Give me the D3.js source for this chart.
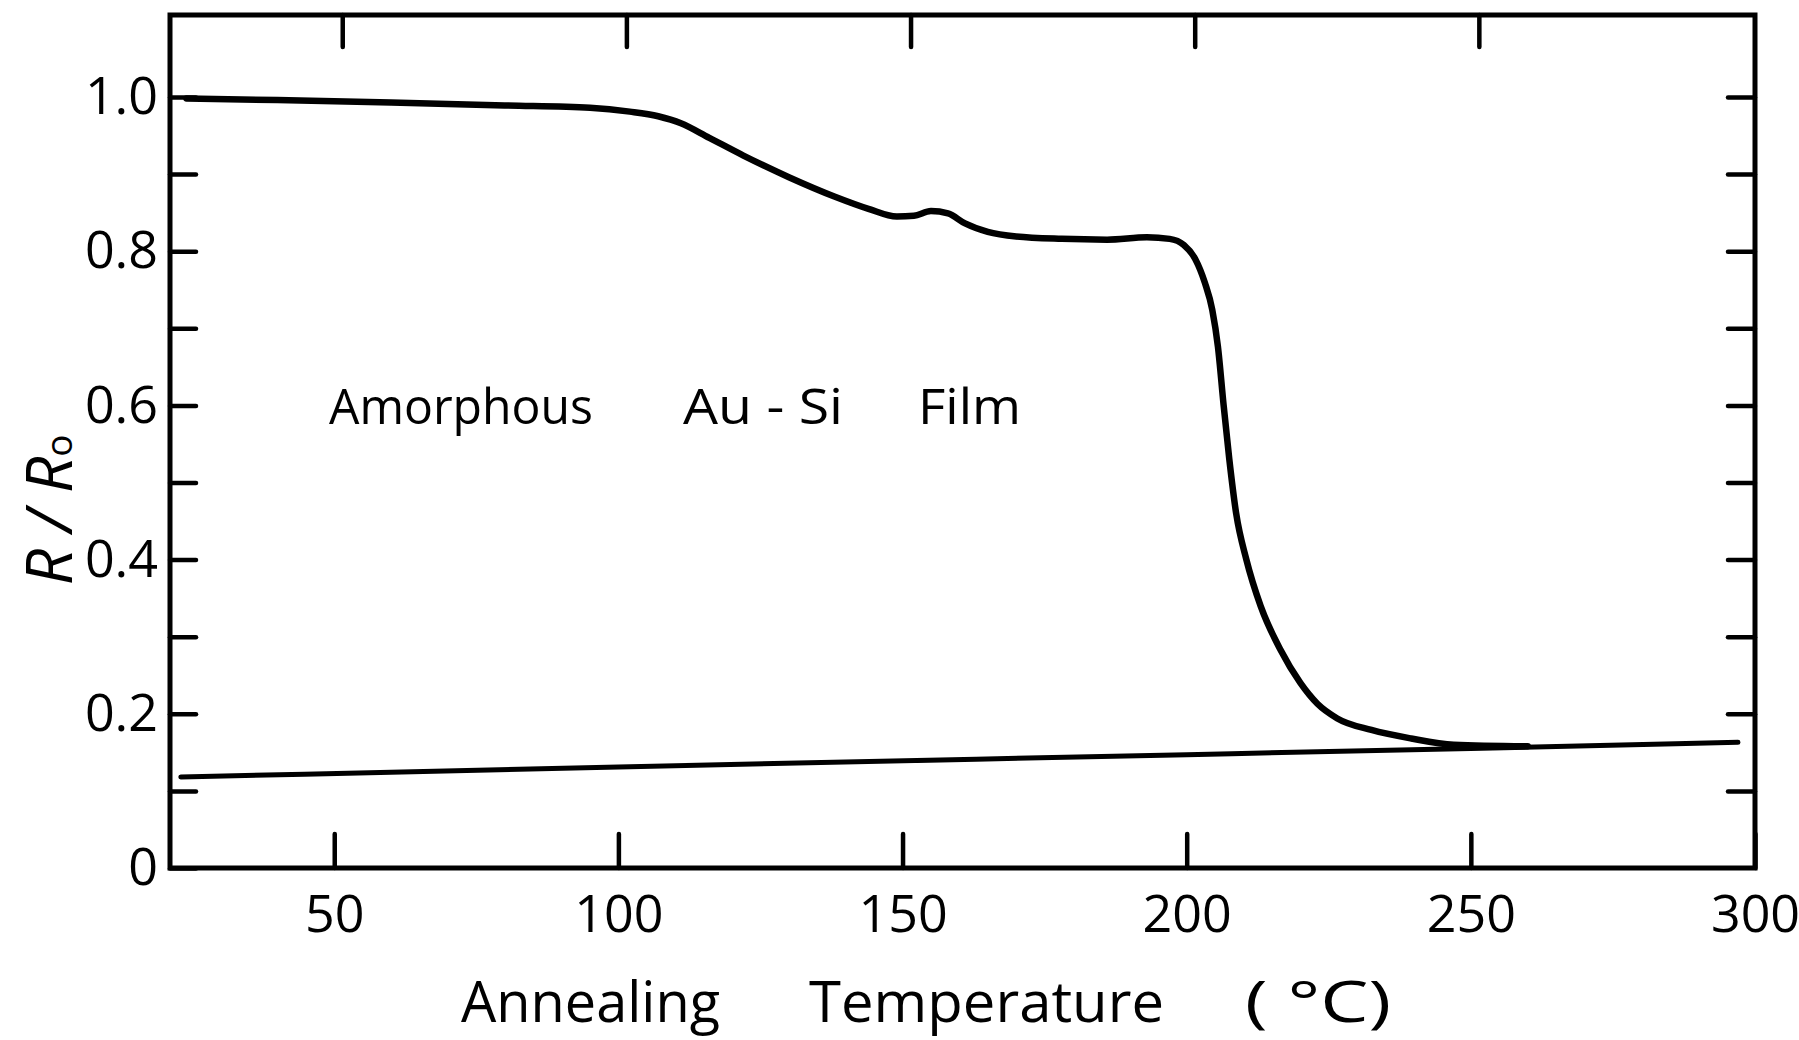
<html>
	<head>
		<title>Amorphous Au-Si Film</title>
		<script src="https://d3js.org/d3.v7.min.js"></script>
		<style>
			body { margin: 0; background-color: white; }
			text { font-family: "Open Sans", sans-serif; fill: black; font-weight: 500; }
		</style>
	</head>
	<body>
		<div id="container"></div>
<script>
	// values
	var xTicks = [50, 100, 150, 200, 250, 300];
	var yTicks = [0.1, 0.2, 0.3, 0.4, 0.5, 0.6, 0.7, 0.8, 0.9, 1.0];
	var yLabels = ["0", "0.2", "0.4", "0.6", "0.8", "1.0"];

	// upper curve: first anneal (temperature, R/Ro)
	var annealT = [24, 40, 60, 80, 95, 102, 107, 111, 116, 122, 130, 138, 144, 149, 152, 155, 158, 161, 165, 170, 178, 186, 193, 197, 199.5, 201.5, 203.2, 204.5, 205.5, 206.5, 207.5, 208.7, 210.5, 213, 216.5, 220, 223, 226.5, 232.5, 239.5, 247, 260];
	var annealR = [0.998, 0.996, 0.993, 0.989, 0.986, 0.981, 0.975, 0.966, 0.947, 0.924, 0.896, 0.871, 0.855, 0.845, 0.846, 0.852, 0.849, 0.836, 0.825, 0.819, 0.816, 0.815, 0.818, 0.816, 0.808, 0.790, 0.759, 0.724, 0.676, 0.600, 0.530, 0.460, 0.400, 0.340, 0.283, 0.240, 0.213, 0.194, 0.179, 0.168, 0.160, 0.158];

	// lower line: cooling back down
	var coolT = [23, 100, 200, 250, 297];
	var coolR = [0.118, 0.131, 0.147, 0.155, 0.163];

	var width = 1799;
	var height = 1040;
	// plot frame edges (don't call one "top", that is window.top)
	var frameL = 170, frameR = 1755, frameT = 15, frameB = 868;

	var svg = d3.select("div#container").append("svg")
		.attr("width", width)
		.attr("height", height);

	var x = d3.scaleLinear().domain([21.1, 300]).range([frameL, frameR]);
	var y = d3.scaleLinear().domain([0, 1]).range([frameB, 97]);

	// inward ticks on all four sides
	svg.append("g")
		.attr("transform", "translate(0," + frameB + ")")
		.call(d3.axisBottom(x).tickValues(xTicks).tickSize(-34).tickPadding(27).tickFormat(d3.format("d")))
		.call(function(g){ g.select(".domain").remove(); });
	svg.append("g")
		.attr("transform", "translate(8," + frameT + ")")
		.call(d3.axisTop(x).tickValues(xTicks.slice(0, 5)).tickSize(-32).tickFormat(""))
		.call(function(g){ g.select(".domain").remove(); });
	svg.append("g")
		.attr("transform", "translate(" + frameL + ",0)")
		.call(d3.axisLeft(y).tickValues([0].concat(yTicks)).tickSize(-26).tickPadding(12)
			.tickFormat(function(d){ var i = Math.round(d * 10); return i % 2 == 0 ? yLabels[i / 2] : ""; }))
		.call(function(g){ g.select(".domain").remove(); });
	svg.append("g")
		.attr("transform", "translate(" + frameR + ",0)")
		.call(d3.axisRight(y).tickValues(yTicks).tickSize(-27).tickFormat(""))
		.call(function(g){ g.select(".domain").remove(); });

	svg.selectAll(".tick line").attr("stroke", "black").attr("stroke-width", 4.5).attr("stroke-linecap", "round");
	svg.selectAll(".tick text").style("font-size", "52px").style("font-weight", "400").attr("fill", "black");

	// frame
	svg.append("rect")
		.attr("x", frameL).attr("y", frameT)
		.attr("width", frameR - frameL).attr("height", frameB - frameT)
		.attr("fill", "none").attr("stroke", "black").attr("stroke-width", 5);

	var line = d3.line()
		.x(function(d){ return x(d[0]); })
		.y(function(d){ return y(d[1]); })
		.curve(d3.curveMonotoneX);

	svg.append("path")
		.datum(coolT.map(function(t, i){ return [t, coolR[i]]; }))
		.attr("d", line)
		.attr("fill", "none").attr("stroke", "black").attr("stroke-width", 5).attr("stroke-linecap", "round");

	svg.append("path")
		.datum(annealT.map(function(t, i){ return [t, annealR[i]]; }))
		.attr("d", line)
		.attr("fill", "none").attr("stroke", "black").attr("stroke-width", 6.5).attr("stroke-linecap", "round");

	// label in the plot
	var note = [["Amorphous", 329, 264], ["Au - Si", 683, 160], ["Film", 918, 103]];
	svg.selectAll("text.note")
		.data(note)
		.enter().append("text")
		.attr("class", "note")
		.attr("x", function(d){ return d[1]; })
		.attr("y", 424)
		.attr("textLength", function(d){ return d[2]; })
		.attr("lengthAdjust", "spacingAndGlyphs")
		.style("font-size", "50px")
		.text(function(d){ return d[0]; });

	// x axis title, words spread out like the original lettering
	var xTitle = [["Annealing", 461, 259], ["Temperature", 809, 355], ["( °C)", 1245, 146]];
	svg.selectAll("text.xtitle")
		.data(xTitle)
		.enter().append("text")
		.attr("class", "xtitle")
		.attr("x", function(d){ return d[1]; })
		.attr("y", 1022)
		.attr("textLength", function(d){ return d[2]; })
		.attr("lengthAdjust", "spacingAndGlyphs")
		.style("font-size", "56px")
		.text(function(d){ return d[0]; });

	// y axis title
	var yTitle = svg.append("text")
		.attr("transform", "translate(72,510) rotate(-90)")
		.attr("text-anchor", "middle")
		.style("font-size", "64px")
		.style("font-style", "italic");
	yTitle.append("tspan").text("R / R");
	yTitle.append("tspan").style("font-size", "37px").style("font-style", "normal").text("o");
</script>
	</body>
</html>
